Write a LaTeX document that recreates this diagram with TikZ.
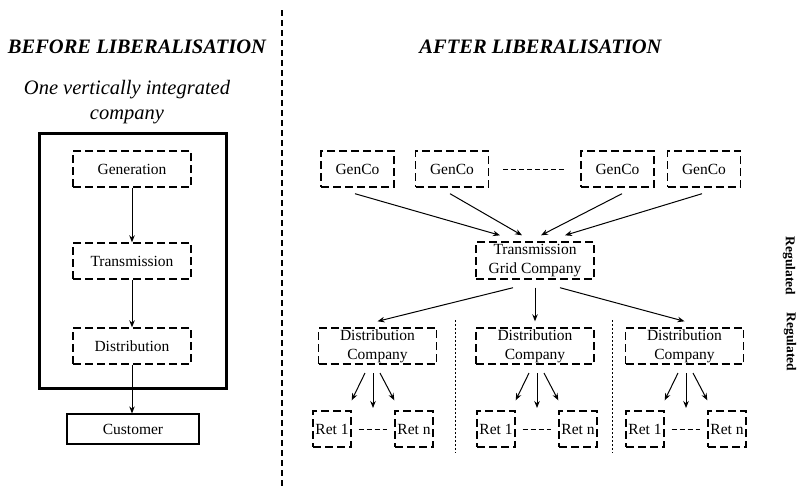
\documentclass[tikz,border=0pt]{standalone}
\usepackage{fontspec}
\setmainfont{Liberation Serif}
\usetikzlibrary{arrows.meta,positioning}

\begin{document}
\begin{tikzpicture}[
        x=1pt, y=-1pt,
        %
        % Boxes and lines
        box/.style={draw, dash pattern=on 8pt off 4pt, line width=1.4pt,
            inner sep=0pt, align=center,
            font=\fontsize{15.5}{19}\selectfont},
        plainbox/.style={draw, line width=1.2pt, inner sep=0pt,
            font=\fontsize{15.5}{19}\selectfont},
        arr/.style={-{Stealth[length=7pt,width=5.5pt]}, line width=1pt},
        gapline/.style={dash pattern=on 5pt off 3pt, line width=0.9pt},
        divider/.style={dash pattern=on 6pt off 4pt, line width=1.3pt},
        sepline/.style={dash pattern=on 2pt off 2pt, line width=1pt},
        %
        % Titles
        bigtitle/.style={font=\fontsize{20.5}{24}\selectfont\bfseries\itshape},
        subtitle/.style={align=center, font=\fontsize{20.5}{25}\selectfont\itshape},
        regulated/.style={rotate=-90, font=\fontsize{13.5}{16}\selectfont\bfseries}
    ]

        \useasboundingbox (0,0) rectangle (799,488);

        % Define the box dimensions
        \def\boxw{118} \def\boxh{36}
        \def\genw{73}
        \def\retw{38}

        % Draw the divider between the two halves
        \draw[divider] (282,10) -- (282,488);

        % Before liberalisation
        \node[bigtitle] (before) at (137,47) {BEFORE LIBERALISATION};
        \node[subtitle] (onecomp) at (127,102) {One vertically integrated\\company};

        % Draw the vertically integrated company
        \draw[line width=3pt] (39,133) rectangle (226,388);
        \node[box, minimum width=\boxw, minimum height=\boxh] (gen)   at (132,169) {Generation};
        \node[box, minimum width=\boxw, minimum height=\boxh] (trans) at (132,261) {Transmission};
        \node[box, minimum width=\boxw, minimum height=\boxh] (dist)  at (132,346) {Distribution};
        \node[plainbox, minimum width=132, minimum height=30] (cust) at (133,429) {Customer};

        \draw[arr] (gen.south) -- (trans.north);
        \draw[arr] (trans.south) -- (dist.north);
        \draw[arr] (dist.south) -- (dist.south |- cust.north);

        % After liberalisation
        \node[bigtitle] (after) at (540.5,47) {AFTER LIBERALISATION};

        % Draw the generation companies
        \foreach \n/\x in {1/357.5, 2/452, 3/617.5, 4/704}
            \node[box, minimum width=\genw, minimum height=\boxh] (g\n) at (\x,169) {GenCo};
        \draw[gapline, shorten <=14pt, shorten >=14pt] (g2) -- (g3);

        % Draw the grid company
        \node[box, minimum width=\boxw, minimum height=37] (tgc) at (535,260.5)
            {Transmission\\Grid Company};
        \foreach \n/\sx/\ex in {1/-2.5/-35, 2/-2/-13, 3/4.5/6, 4/-2/30}
            \draw[arr] ([xshift=\sx pt, yshift=-6pt]g\n.south) --
                       ([xshift=\ex pt, yshift=6pt]tgc.north);

        % Draw the distribution companies
        \foreach \n/\x in {1/377.5, 2/535, 3/684.5}
            \node[box, minimum width=\boxw, minimum height=\boxh] (dc\n) at (\x,346)
                {Distribution\\Company};
        \draw[arr] ([xshift=-22pt, yshift=-8pt]tgc.south) -- ([yshift=6pt]dc1.north);
        \draw[arr] ([yshift=-8pt]tgc.south) -- ([yshift=6pt]dc2.north);
        \draw[arr] ([xshift=25pt, yshift=-8pt]tgc.south) -- ([yshift=6pt]dc3.north);

        % Separate the distribution areas
        \draw[sepline] (455,320) -- (455,453);
        \draw[sepline] (612,320) -- (612,453);

        % Draw the retailers below each distribution company
        \foreach \n/\c in {1/373, 2/537, 3/686} {
            \node[box, minimum width=\retw, minimum height=\boxh] (ret\n-1) at (\c-41,429) {Ret 1};
            \node[box, minimum width=\retw, minimum height=\boxh] (ret\n-n) at (\c+41,429) {Ret n};
            \coordinate (top\n) at (\c,373);
            \coordinate (end\n) at (\c,408);
            \draw[arr] ([xshift=-8pt]top\n) -- ([yshift=10pt]ret\n-1.north east);
            \draw[arr] (top\n) -- (end\n);
            \draw[arr] ([xshift=7pt]top\n) -- ([yshift=10pt]ret\n-n.north west);
            \draw[gapline, shorten <=7pt, shorten >=7pt] (ret\n-1) -- (ret\n-n);
        }

        % Regulated labels
        \node[regulated] (reg1) at (789,266) {Regulated};
        \node[regulated] (reg2) at (790,342) {Regulated};

\end{tikzpicture}
\end{document}
